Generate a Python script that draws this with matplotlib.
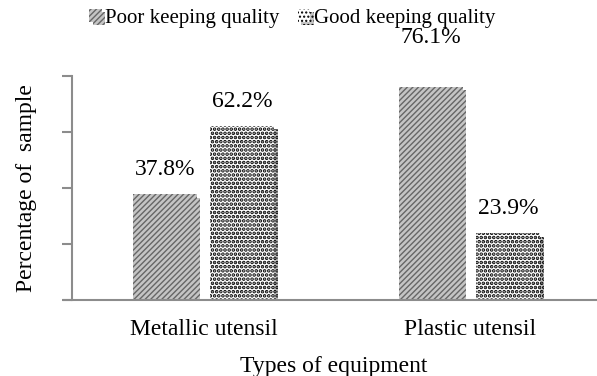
import matplotlib
matplotlib.use("Agg")
import matplotlib.pyplot as plt
import matplotlib.patheffects as pe
import numpy as np

categories = ["Metallic utensil", "Plastic utensil"]
poor_quality = [37.8, 76.1]
good_quality = [62.2, 23.9]
series_names = ["Poor keeping quality", "Good keeping quality"]

plt.rcParams["font.family"] = ["Liberation Serif", "DejaVu Serif"]

fig = plt.figure(figsize=(5.97, 3.76), dpi=100)
ax = fig.add_axes([72 / 597, 1 - 300 / 376, 524 / 597, 224 / 376])

x = np.arange(len(categories))
w = 0.24
off = 0.145
shadow_patch = [pe.withSimplePatchShadow(offset=(2.5, -2.5), shadow_rgbFace="gray", alpha=0.45)]

with plt.rc_context({"hatch.linewidth": 1.0}):
    b1 = ax.bar(x - off, poor_quality, w, color="#c4c4c4", edgecolor="#666666",
                hatch="//////", linewidth=0, label=series_names[0])
with plt.rc_context({"hatch.linewidth": 1.8}):
    b2 = ax.bar(x + off, good_quality, w, color="white", edgecolor="black",
                hatch="....", linewidth=0, label=series_names[1])
for b in list(b1) + list(b2):
    b.set_path_effects(shadow_patch)

# label gaps above each bar, in data units
poor_gap = [5, 14]
good_gap = [5, 5]
fs = 17
for xi, v, g in zip(x - off, poor_quality, poor_gap):
    ax.text(xi, v + g, f"{v:.1f}%", ha="center", va="bottom", fontsize=fs)
for xi, v, g in zip(x + off, good_quality, good_gap):
    ax.text(xi, v + g, f"{v:.1f}%", ha="center", va="bottom", fontsize=fs)

ax.set_xlim(-0.495, 1.475)
ax.set_ylim(0, 80)
ax.set_yticks([0, 20, 40, 60, 80])
ax.set_yticklabels([])
ax.set_xticks(x)
ax.set_xticklabels(categories, fontsize=fs)
ax.tick_params(axis="x", length=0, pad=14)
ax.tick_params(axis="y", length=7, width=1.5, color="#8c8c8c", direction="out")
for s in ["top", "right"]:
    ax.spines[s].set_visible(False)
for s in ["left", "bottom"]:
    ax.spines[s].set_color("#8c8c8c")
    ax.spines[s].set_linewidth(1.5)
ax.spines["bottom"].set_bounds(-0.495 - 0.03, 1.475)
ax.spines["bottom"].set_clip_on(False)

ax.set_xlabel("Types of equipment", fontsize=fs, labelpad=11)
ax.set_ylabel("Percentage of  sample", fontsize=fs, labelpad=15)

leg = fig.legend(handles=[b1, b2], labels=series_names, loc="center",
                 bbox_to_anchor=(292 / 597, 1 - 18 / 376), ncol=2, frameon=False,
                 fontsize=15, handlelength=0.6, handleheight=0.6,
                 handletextpad=0.15, columnspacing=0.9)

fig.savefig("out.png", dpi=100)
